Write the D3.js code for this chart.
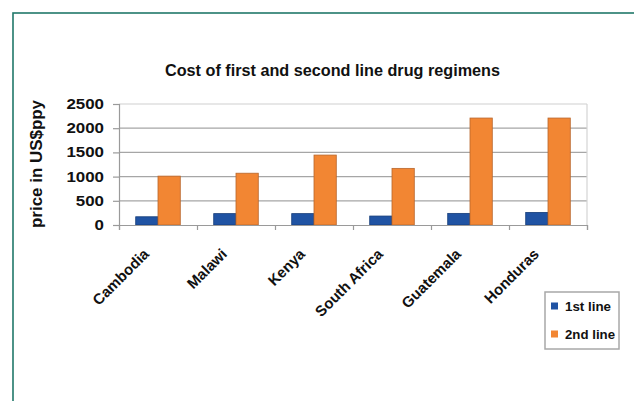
<!DOCTYPE html>
<html>
<head>
<meta charset="utf-8">
<script src="https://cdn.jsdelivr.net/npm/d3@7"></script>
<style>
html,body{margin:0;padding:0;background:#fff;}
svg{display:block;}
text{font-family:"Liberation Sans",Arial,sans-serif;font-weight:bold;fill:#111;}
</style>
</head>
<body>
<svg id="chart" width="634" height="401"></svg>
<script>
const categories = ["Cambodia","Malawi","Kenya","South Africa","Guatemala","Honduras"];
const seriesNames = ["1st line","2nd line"];
const firstLine = [170, 235, 235, 185, 240, 260];
const secondLine = [1010, 1070, 1445, 1170, 2210, 2210];
const yTicks = [0, 500, 1000, 1500, 2000, 2500];
const title = "Cost of first and second line drug regimens";
const yTitle = "price in US$ppy";

const colors = {"1st line":"#2053a3","2nd line":"#f28633"};
const strokes = {"1st line":"#163d7a","2nd line":"#b8662c"};

const svg = d3.select("#chart");

// outer frame
svg.append("rect").attr("x",13).attr("y",13).attr("width",700).attr("height",500)
  .attr("fill","none").attr("stroke","#21786a").attr("stroke-width",1.6);

const pLeft = 119, pRight = 587, pTop = 104, pBottom = 225;

const x0 = d3.scaleBand().domain(categories).range([pLeft,pRight]).paddingInner(0).paddingOuter(0);
const x1 = d3.scaleBand().domain(seriesNames).range([0,x0.bandwidth()]).paddingInner(0).paddingOuter(0.75);
const y = d3.scaleLinear().domain([0,2500]).range([pBottom,pTop]);

// gridlines
svg.append("g").selectAll("line").data(yTicks.filter(d=>d>0)).join("line")
  .attr("x1",pLeft).attr("x2",pRight).attr("y1",d=>y(d)).attr("y2",d=>y(d))
  .attr("stroke",(d)=> d===2500 ? "#cfcfcf" : "#a6a6a6").attr("stroke-width",1.2);
// right border of plot area
svg.append("line").attr("x1",pRight).attr("x2",pRight).attr("y1",pTop).attr("y2",pBottom)
  .attr("stroke","#d4d4d4").attr("stroke-width",1.2);

// bars
const data = categories.map((c,i)=>({c, vals:[{s:"1st line",v:firstLine[i]},{s:"2nd line",v:secondLine[i]}]}));
const groups = svg.append("g").selectAll("g").data(data).join("g")
  .attr("transform",d=>`translate(${x0(d.c)},0)`);
groups.selectAll("rect").data(d=>d.vals).join("rect")
  .attr("x",d=>x1(d.s)).attr("width",x1.bandwidth())
  .attr("y",d=>y(d.v)).attr("height",d=>y(0)-y(d.v))
  .attr("fill",d=>colors[d.s]).attr("stroke",d=>strokes[d.s]).attr("stroke-width",0.8);

// y axis
const yAxis = svg.append("g").attr("transform",`translate(${pLeft},0)`)
  .call(d3.axisLeft(y).tickValues(yTicks).tickSize(6).tickPadding(9).tickFormat(d3.format("d")));
yAxis.select(".domain").attr("stroke","#9a9a9a").attr("stroke-width",1.2);
yAxis.selectAll(".tick line").attr("stroke","#9a9a9a").attr("stroke-width",1.2);
yAxis.selectAll(".tick text").attr("font-size",14).attr("font-family","Liberation Sans, Arial, sans-serif")
  .attr("font-weight","bold").attr("fill","#222")
  .attr("textLength",d=>String(d).length*9.4).attr("lengthAdjust","spacingAndGlyphs");

// x axis (ticks between categories)
const xb = d3.scaleLinear().domain([0,categories.length]).range([pLeft,pRight]);
const xAxis = svg.append("g").attr("transform",`translate(0,${pBottom})`)
  .call(d3.axisBottom(xb).tickValues(d3.range(categories.length+1)).tickSize(5).tickFormat(""));
xAxis.select(".domain").attr("stroke","#9a9a9a").attr("stroke-width",1.2);
xAxis.selectAll(".tick line").attr("stroke","#9a9a9a").attr("stroke-width",1.2);

// category labels
svg.append("g").selectAll("text").data(categories).join("text")
  .attr("transform",d=>`translate(${x0(d)+x0.bandwidth()/2-8},${255}) rotate(-45)`)
  .attr("text-anchor","end").attr("font-size",15).attr("fill","#222")
  .text(d=>d);

// title
svg.append("text").attr("x",332.5).attr("y",76).attr("text-anchor","middle")
  .attr("font-size",16).attr("textLength",335).attr("lengthAdjust","spacingAndGlyphs")
  .text(title);

// y title
svg.append("text").attr("transform","translate(42,164) rotate(-90)")
  .attr("text-anchor","middle").attr("font-size",16)
  .attr("textLength",128).attr("lengthAdjust","spacingAndGlyphs")
  .text(yTitle);

// legend
const lg = svg.append("g");
lg.append("rect").attr("x",545).attr("y",292).attr("width",74).attr("height",57)
  .attr("fill","#fff").attr("stroke","#a8a8a8").attr("stroke-width",1.5);
const li = lg.selectAll("g").data(seriesNames).join("g")
  .attr("transform",(d,i)=>`translate(551,${306+i*28})`);
li.append("rect").attr("x",0).attr("y",-3.5).attr("width",7).attr("height",7)
  .attr("fill",d=>colors[d]);
li.append("text").attr("x",14).attr("y",5).attr("font-size",13)
  .attr("textLength",(d,i)=>i===0?46:50).attr("lengthAdjust","spacingAndGlyphs")
  .text(d=>d);
</script>
</body>
</html>
